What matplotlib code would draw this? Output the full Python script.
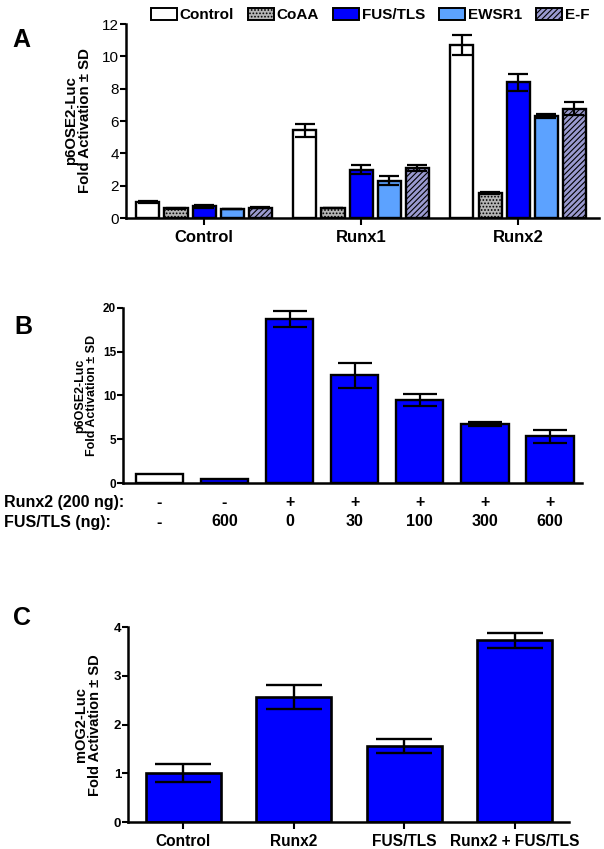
import matplotlib
matplotlib.use("Agg")
import matplotlib.pyplot as plt
import matplotlib.transforms as mtransforms
from matplotlib.patches import Patch
import numpy as np

plt.rcParams['font.family'] = ['Liberation Sans', 'DejaVu Sans']
plt.rcParams['hatch.linewidth'] = 0.8

# ---------------- data ----------------
# Panel A
a_groups = ['Control', 'Runx1', 'Runx2']
a_series = ['Control', 'CoAA', 'FUS/TLS', 'EWSR1', 'E-F']
a_vals = {
    'Control': [1.02, 5.42, 10.68],
    'CoAA':    [0.60, 0.62, 1.55],
    'FUS/TLS': [0.72, 3.00, 8.40],
    'EWSR1':   [0.56, 2.31, 6.32],
    'E-F':     [0.64, 3.09, 6.75],
}
a_errs = {
    'Control': [0.06, 0.42, 0.62],
    'CoAA':    [0.02, 0.03, 0.06],
    'FUS/TLS': [0.07, 0.25, 0.53],
    'EWSR1':   [0.02, 0.27, 0.14],
    'E-F':     [0.05, 0.20, 0.40],
}

# Panel B
b_vals = [1.03, 0.50, 18.74, 12.28, 9.48, 6.69, 5.35]
b_errs = [0.00, 0.00, 0.90, 1.45, 0.65, 0.23, 0.75]
b_runx2 = ['-', '-', '+', '+', '+', '+', '+']
b_fus = ['-', '600', '0', '30', '100', '300', '600']

# Panel C
c_labels = ['Control', 'Runx2', 'FUS/TLS', 'Runx2 + FUS/TLS']
c_vals = [1.01, 2.57, 1.56, 3.73]
c_errs = [0.19, 0.25, 0.14, 0.15]

# ---------------- styles ----------------
BLUE = '#0000ff'
LW = 1.7
a_style = {
    'Control': dict(color='white', hatch=None),
    'CoAA':    dict(color='#b4b4b4', hatch='.....'),
    'FUS/TLS': dict(color=BLUE, hatch=None),
    'EWSR1':   dict(color='#5ca2ff', hatch=None),
    'E-F':     dict(color='#9a9ad0', hatch='//////'),
}


def style_axis(ax, ytick_bold=True, ysize=9):
    for s in ['top', 'right']:
        ax.spines[s].set_visible(False)
    for s in ['left', 'bottom']:
        ax.spines[s].set_linewidth(1.8)
    ax.tick_params(axis='y', direction='out', length=4, width=1.5, labelsize=ysize, pad=1)
    ax.tick_params(axis='x', direction='out', length=5, width=1.5)
    if ytick_bold:
        for t in ax.get_yticklabels():
            t.set_fontweight('bold')


fig = plt.figure(figsize=(6.04, 8.49), dpi=100)

# ================= Panel A =================
axA = fig.add_axes([0.208, 0.7432, 0.784, 0.2285])
x = np.arange(len(a_groups))
pitch = 0.179
width = 0.147
for i, s in enumerate(a_series):
    st = a_style[s]
    pos = x + (i - 2) * pitch
    axA.bar(pos, a_vals[s], width, color=st['color'], hatch=st['hatch'],
            edgecolor='black', linewidth=LW, label=s, zorder=2)
    axA.errorbar(pos, a_vals[s], yerr=a_errs[s], fmt='none', ecolor='black',
                 elinewidth=1.6, capsize=7, capthick=1.6, zorder=3)
axA.set_xlim(-0.5, 2.516)
axA.set_ylim(0, 12)
axA.set_yticks([0, 2, 4, 6, 8, 10, 12])
axA.set_xticks(x)
axA.set_xticklabels(a_groups, fontsize=12, fontweight='bold')
style_axis(axA, ytick_bold=False, ysize=11)
axA.set_ylabel('p6OSE2-Luc\nFold Activation ± SD', fontsize=10.8,
               fontweight='bold', linespacing=1.0)
axA.yaxis.set_label_coords(-0.07, 0.5)

handles = [Patch(facecolor=a_style[s]['color'], hatch=a_style[s]['hatch'],
                 edgecolor='black', linewidth=1.4) for s in a_series]
fig.legend(handles, a_series, loc='center', ncol=5, frameon=False,
           bbox_to_anchor=(370 / 604, 1 - 15 / 849),
           prop={'size': 11, 'weight': 'bold'},
           handlelength=1.7, handleheight=0.8, handletextpad=0.2,
           columnspacing=0.9, borderaxespad=0)

# ================= Panel B =================
axB = fig.add_axes([0.2036, 0.431, 0.7595, 0.2066])
xb = np.arange(len(b_vals))
b_colors = ['white'] + [BLUE] * (len(b_vals) - 1)
axB.bar(xb, b_vals, 0.73, color=b_colors, edgecolor='black', linewidth=LW, zorder=2)
b_mask = np.array(b_errs) > 0
axB.errorbar(xb[b_mask], np.array(b_vals)[b_mask], yerr=np.array(b_errs)[b_mask],
             fmt='none', ecolor='black', elinewidth=1.6, capsize=12, capthick=1.6, zorder=3)
axB.set_xlim(-0.56, 6.49)
axB.set_ylim(0, 20)
axB.set_yticks([0, 5, 10, 15, 20])
axB.set_xticks([])
style_axis(axB, ytick_bold=True, ysize=8.5)
axB.set_ylabel('p6OSE2-Luc\nFold Activation ± SD', fontsize=9,
               fontweight='bold', linespacing=1.0)
axB.yaxis.set_label_coords(-0.055, 0.5)

trB = mtransforms.blended_transform_factory(axB.transData, fig.transFigure)
y1 = 1 - 503 / 849
y2 = 1 - 522 / 849
fig.text(4 / 604, y1, 'Runx2 (200 ng):', fontsize=11.5, fontweight='bold', va='center')
fig.text(4 / 604, y2, 'FUS/TLS (ng):', fontsize=11.5, fontweight='bold', va='center')
for xi, r, f in zip(xb, b_runx2, b_fus):
    axB.text(xi, y1, r, transform=trB, ha='center', va='center', fontsize=11.5, fontweight='bold')
    axB.text(xi, y2, f, transform=trB, ha='center', va='center', fontsize=11.5, fontweight='bold')

# ================= Panel C =================
axC = fig.add_axes([0.212, 0.0318, 0.730, 0.2293])
xc = np.arange(len(c_vals))
axC.bar(xc, c_vals, 0.68, color=BLUE, edgecolor='black', linewidth=1.9, zorder=2)
axC.errorbar(xc, c_vals, yerr=c_errs, fmt='none', ecolor='black',
             elinewidth=1.7, capsize=20, capthick=1.7, zorder=3)
axC.set_xlim(-0.5, 3.49)
axC.set_ylim(0, 4)
axC.set_yticks([0, 1, 2, 3, 4])
axC.set_xticks(xc)
axC.set_xticklabels(c_labels, fontsize=11.2, fontweight='bold')
style_axis(axC, ytick_bold=True, ysize=9.5)
axC.set_ylabel('mOG2-Luc\nFold Activation ± SD', fontsize=10.5,
               fontweight='bold', linespacing=1.0)
axC.yaxis.set_label_coords(-0.059, 0.5)

# panel letters
fig.text(21 / 604, 1 - 40 / 849, 'A', fontsize=18, fontweight='bold', ha='center', va='center')
fig.text(23 / 604, 1 - 327 / 849, 'B', fontsize=18, fontweight='bold', ha='center', va='center')
fig.text(22 / 604, 1 - 618 / 849, 'C', fontsize=18, fontweight='bold', ha='center', va='center')

fig.savefig('out.png', dpi=100)
